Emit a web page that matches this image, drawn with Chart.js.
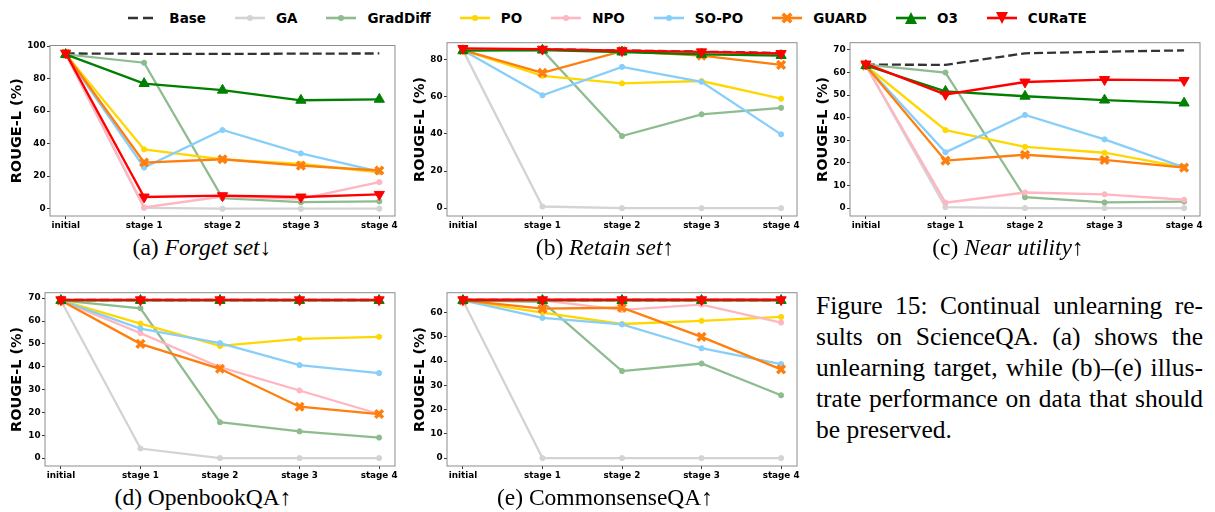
<!DOCTYPE html>
<html><head><meta charset="utf-8">
<script src="https://cdn.jsdelivr.net/npm/chart.js@4.4.0/dist/chart.umd.min.js"></script>
<style>
html,body{margin:0;padding:0;background:#fff;width:1215px;height:512px;overflow:hidden;position:relative}
canvas{position:absolute}
.cap{position:absolute;font-family:"Liberation Serif","Times New Roman",serif;font-size:23.5px;white-space:nowrap;transform:translate(-50%,-50%);color:#000;line-height:1}
#legend{position:absolute;left:0;top:8px;width:1215px;height:20px;display:flex;justify-content:center;align-items:center;font-family:"DejaVu Sans";font-weight:bold;font-size:13.5px;color:#000}
#legend .it{display:flex;align-items:center;margin:0 14.5px}
#legend svg{margin-right:11px}
#fig{position:absolute;left:816px;top:290px;width:387px;font-family:"Liberation Serif","Times New Roman",serif;font-size:25.5px;line-height:31px;color:#000}
#fig div{text-align:justify;text-align-last:justify;white-space:nowrap}
#fig div.last{text-align-last:left}
</style>
</head><body>
<div id="legend"></div>
<canvas id="cA"></canvas><canvas id="cB"></canvas><canvas id="cC"></canvas><canvas id="cD"></canvas><canvas id="cE"></canvas>
<div class="cap" style="left:202px;top:248px">(a) <i>Forget set</i>↓</div>
<div class="cap" style="left:605px;top:248px">(b) <i>Retain set</i>↑</div>
<div class="cap" style="left:1008px;top:248px">(c) <i>Near utility</i>↑</div>
<div class="cap" style="left:203px;top:498px">(d) OpenbookQA↑</div>
<div class="cap" style="left:605px;top:498px">(e) CommonsenseQA↑</div>
<div id="fig">
<div>Figure 15: Continual unlearning re-</div>
<div>sults on ScienceQA. (a) shows the</div>
<div>unlearning target, while (b)–(e) illus-</div>
<div>trate performance on data that should</div>
<div class="last">be preserved.</div>
</div>
<script>
const categories = ['initial','stage 1','stage 2','stage 3','stage 4'];
const methods = ['Base','GA','GradDiff','PO','NPO','SO-PO','GUARD','O3','CURaTE'];
const yLabel = 'ROUGE-L (%)';

// (a) Forget set
const forgetBase    = [95.5, 95.3, 95.2, 95.4, 95.5];
const forgetGA      = [95.0, 0.5, 0.0, 0.0, 0.0];
const forgetGradDiff= [95.0, 89.8, 6.5, 4.0, 4.5];
const forgetPO      = [95.0, 36.5, 30.4, 27.5, 22.4];
const forgetNPO     = [95.5, 0.8, 7.5, 6.0, 16.3];
const forgetSOPO    = [95.0, 25.3, 48.4, 34.0, 22.8];
const forgetGUARD   = [95.3, 28.4, 30.4, 26.5, 23.5];
const forgetO3      = [94.9, 77.0, 72.9, 66.7, 67.3];
const forgetCURaTE  = [95.7, 7.2, 8.0, 7.2, 8.8];
const forgetTicks   = [0, 20, 40, 60, 80, 100];

// (b) Retain set
const retainBase    = [85.5, 85.5, 84.8, 84.2, 83.4];
const retainGA      = [85.0, 0.9, 0.0, 0.0, 0.0];
const retainGradDiff= [85.0, 85.0, 38.8, 50.5, 54.0];
const retainPO      = [85.0, 71.2, 67.1, 68.4, 58.9];
const retainNPO     = [85.5, 85.3, 84.5, 83.8, 83.0];
const retainSOPO    = [85.0, 60.7, 76.0, 68.0, 39.7];
const retainGUARD   = [85.0, 72.8, 84.5, 82.0, 77.1];
const retainO3      = [84.7, 85.0, 84.0, 82.7, 82.1];
const retainCURaTE  = [85.9, 85.5, 84.7, 84.1, 83.2];
const retainTicks   = [0, 20, 40, 60, 80];

// (c) Near utility
const nearBase      = [63.5, 63.4, 68.5, 69.2, 69.8];
const nearGA        = [63.0, 0.4, 0.0, 0.0, 0.0];
const nearGradDiff  = [63.5, 60.0, 4.8, 2.5, 2.9];
const nearPO        = [63.0, 34.5, 27.1, 24.5, 18.0];
const nearNPO       = [63.0, 2.4, 6.9, 6.1, 3.7];
const nearSOPO      = [63.0, 24.7, 41.2, 30.4, 18.0];
const nearGUARD     = [63.0, 21.0, 23.6, 21.3, 17.9];
const nearO3        = [63.1, 51.7, 49.5, 47.8, 46.5];
const nearCURaTE    = [63.8, 50.3, 55.8, 56.9, 56.5];
const nearTicks     = [0, 10, 20, 30, 40, 50, 60, 70];

// (d) OpenbookQA
const obqaBase      = [69.2, 69.2, 69.2, 69.2, 69.2];
const obqaGA        = [69.0, 4.2, 0.0, 0.0, 0.0];
const obqaGradDiff  = [69.0, 65.6, 15.7, 11.7, 9.0];
const obqaPO        = [69.0, 58.9, 49.1, 52.2, 53.1];
const obqaNPO       = [69.0, 54.7, 39.8, 29.6, 19.3];
const obqaSOPO      = [69.0, 56.7, 50.3, 40.7, 37.2];
const obqaGUARD     = [69.0, 50.0, 39.1, 22.5, 19.3];
const obqaO3        = [69.0, 69.0, 69.0, 69.0, 69.0];
const obqaCURaTE    = [69.3, 69.3, 69.3, 69.3, 69.3];
const obqaTicks     = [0, 10, 20, 30, 40, 50, 60, 70];

// (e) CommonsenseQA
const csqaBase      = [65.2, 65.2, 65.2, 65.2, 65.2];
const csqaGA        = [65.0, 0.0, 0.0, 0.0, 0.0];
const csqaGradDiff  = [65.0, 64.4, 35.9, 39.0, 25.9];
const csqaPO        = [65.0, 60.0, 55.3, 56.6, 58.2];
const csqaNPO       = [65.0, 65.0, 61.1, 63.3, 55.9];
const csqaSOPO      = [65.0, 57.8, 55.1, 45.3, 38.8];
const csqaGUARD     = [65.0, 61.6, 62.0, 50.0, 36.6];
const csqaO3        = [65.0, 65.0, 65.0, 65.0, 65.0];
const csqaCURaTE    = [65.3, 65.3, 65.3, 65.3, 65.3];
const csqaTicks     = [0, 10, 20, 30, 40, 50, 60];

// ---------- styles ----------
const styles = {
  'Base':     {color:'#333333', dash:[9,4], point:false},
  'GA':       {color:'#d3d3d3', ps:'circle', r:2.6},
  'GradDiff': {color:'#8fbc8f', ps:'circle', r:2.6},
  'PO':       {color:'#ffd700', ps:'circle', r:2.6},
  'NPO':      {color:'#ffb6c1', ps:'circle', r:2.6},
  'SO-PO':    {color:'#87cefa', ps:'circle', r:2.6},
  'GUARD':    {color:'#ff7f0e', ps:'crossRot', r:5.4, pbw:3.5},
  'O3':       {color:'#008000', ps:'triangle', r:5.9},
  'CURaTE':   {color:'#ff0000', ps:'triangle', r:5.9, rot:180}
};

function makeDatasets(series){
  return methods.map((m,i)=>{
    const s = styles[m];
    return {
      label:m,
      data: series[i].map((v,k)=>({x:k,y:v})),
      borderColor:s.color, backgroundColor:s.color,
      borderWidth:2.3, borderDash:s.dash||[],
      pointRadius:s.point===false?0:s.r, pointHoverRadius:0,
      pointStyle:s.ps||'circle', pointRotation:s.rot||0,
      pointBorderWidth:s.pbw||1, pointBackgroundColor:s.color, pointBorderColor:s.color,
      tension:0, order:methods.length-i, clip:8
    };
  });
}

const boxPlugin = {
  id:'box',
  afterDatasetsDraw(chart){
    const a = chart.chartArea, ctx = chart.ctx;
    ctx.save(); ctx.strokeStyle='#8c8c8c'; ctx.lineWidth=1;
    ctx.strokeRect(a.left, a.top, a.right-a.left, a.bottom-a.top);
    ctx.restore();
  }
};

function makePanel(id, cv, plot, series, yMin, yMax, yTicks){
  const el = document.getElementById(id);
  el.style.left = cv.x+'px'; el.style.top = cv.y+'px';
  el.width = cv.w; el.height = cv.h;
  el.style.width = cv.w+'px'; el.style.height = cv.h+'px';
  const padLeft = plot.labX - cv.x - 7.25;
  const yW = plot.l - cv.x - padLeft;
  const xH = cv.y + cv.h - plot.b;
  new Chart(el, {
    type:'line',
    data:{datasets: makeDatasets(series)},
    plugins:[boxPlugin],
    options:{
      responsive:false, animation:false, devicePixelRatio:1,
      layout:{padding:{left:padLeft, top:plot.t - cv.y, right:cv.x + cv.w - plot.r, bottom:0}},
      plugins:{legend:{display:false}, tooltip:{enabled:false}},
      events:[],
      scales:{
        x:{type:'linear', min:-0.2, max:4.2,
           afterFit(s){ s.height = xH; },
           afterBuildTicks(s){ s.ticks = categories.map((c,i)=>({value:i})); },
           ticks:{autoSkip:false, maxRotation:0, padding:1, color:'#000',
                  font:{family:'DejaVu Sans', weight:'bold', size:8.8},
                  callback:(v)=>categories[v]},
           grid:{drawOnChartArea:false, drawTicks:true, tickLength:3, color:'#333'},
           border:{display:false}},
        y:{type:'linear', min:yMin, max:yMax,
           afterFit(s){ s.width = yW; },
           afterBuildTicks(s){ s.ticks = yTicks.map(v=>({value:v})); },
           ticks:{padding:1.5, color:'#000', font:{family:'DejaVu Sans', weight:'bold', size:8.8}},
           grid:{drawOnChartArea:false, drawTicks:true, tickLength:3, color:'#333'},
           border:{display:false},
           title:{display:true, text:yLabel, color:'#000', padding:0,
                  font:{family:'DejaVu Sans', weight:'bold', size:14.5, lineHeight:1}}}
      }
    }
  });
}

makePanel('cA', {x:0,y:30,w:410,h:200}, {l:50,t:45.5,r:395,b:216,labX:17},
  [forgetBase,forgetGA,forgetGradDiff,forgetPO,forgetNPO,forgetSOPO,forgetGUARD,forgetO3,forgetCURaTE], -4.5, 100.4, forgetTicks);
makePanel('cB', {x:405,y:30,w:405,h:200}, {l:447,t:42.7,r:797,b:216,labX:420},
  [retainBase,retainGA,retainGradDiff,retainPO,retainNPO,retainSOPO,retainGUARD,retainO3,retainCURaTE], -4.2, 89.0, retainTicks);
makePanel('cC', {x:808,y:30,w:407,h:200}, {l:850,t:42.7,r:1200,b:216,labX:823},
  [nearBase,nearGA,nearGradDiff,nearPO,nearNPO,nearSOPO,nearGUARD,nearO3,nearCURaTE], -3.5, 73.2, nearTicks);
makePanel('cD', {x:0,y:280,w:410,h:200}, {l:45,t:292.7,r:395,b:466,labX:17},
  [obqaBase,obqaGA,obqaGradDiff,obqaPO,obqaNPO,obqaSOPO,obqaGUARD,obqaO3,obqaCURaTE], -3.45, 72.4, obqaTicks);
makePanel('cE', {x:405,y:280,w:405,h:200}, {l:447,t:292.7,r:797,b:466,labX:420},
  [csqaBase,csqaGA,csqaGradDiff,csqaPO,csqaNPO,csqaSOPO,csqaGUARD,csqaO3,csqaCURaTE], -3.25, 68.2, csqaTicks);

// ---------- legend ----------
function handleSVG(m){
  const s = styles[m], c = s.color;
  let inner = '';
  if (m==='Base') {
    inner = `<line x1="0" y1="8" x2="28" y2="8" stroke="${c}" stroke-width="2.6" stroke-dasharray="10,5"/>`;
  } else {
    inner = `<line x1="0" y1="8" x2="30" y2="8" stroke="${c}" stroke-width="2.6"/>`;
    if (s.ps==='circle') inner += `<circle cx="15" cy="8" r="3" fill="${c}"/>`;
    else if (s.ps==='crossRot') inner += `<g transform="translate(15,8)"><line x1="-4.2" y1="-4.2" x2="4.2" y2="4.2" stroke="${c}" stroke-width="3.6"/><line x1="-4.2" y1="4.2" x2="4.2" y2="-4.2" stroke="${c}" stroke-width="3.6"/></g>`;
    else if (s.rot===180) inner += `<polygon points="9,2 21,2 15,14" fill="${c}"/>`;
    else inner += `<polygon points="9,14 21,14 15,2" fill="${c}"/>`;
  }
  return `<svg width="30" height="16" viewBox="0 0 30 16">${inner}</svg>`;
}
const lg = document.getElementById('legend');
lg.innerHTML = methods.map(m=>`<div class="it">${handleSVG(m)}<span>${m}</span></div>`).join('');
</script>
</body></html>
